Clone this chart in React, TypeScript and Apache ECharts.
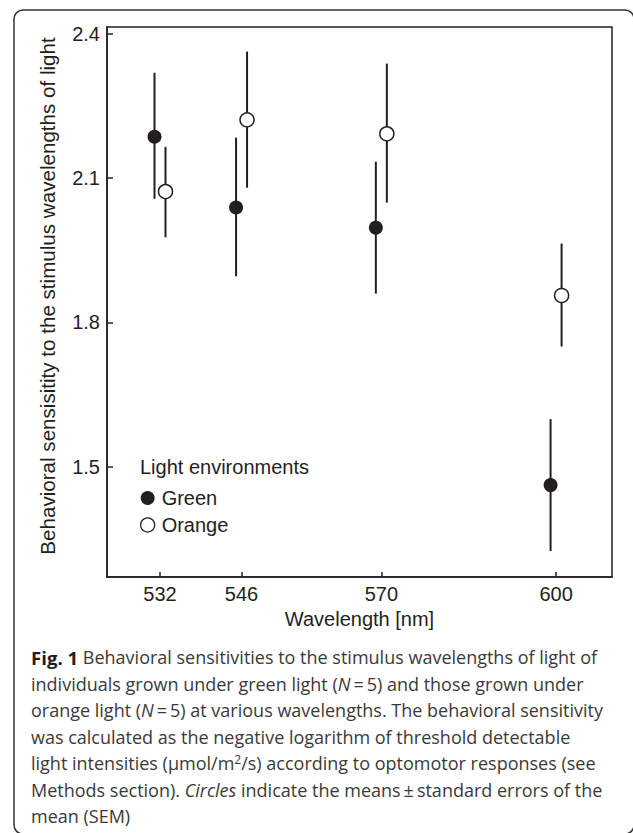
import React, { useEffect, useRef } from 'react';
import * as echarts from 'echarts';

const wavelengths = [532, 546, 570, 600];
const greenMean = [2.186, 2.039, 1.997, 1.462];
const greenLow = [2.057, 1.896, 1.86, 1.325];
const greenHigh = [2.319, 2.184, 2.134, 1.599];
const orangeMean = [2.072, 2.221, 2.192, 1.856];
const orangeLow = [1.977, 2.08, 2.049, 1.75];
const orangeHigh = [2.165, 2.363, 2.338, 1.964];
const yTicks = [1.5, 1.8, 2.1, 2.4];

const yTitle = 'Behavioral sensisitity to the stimulus wavelengths of light';
const xTitle = 'Wavelength [nm]';
const legendTitle = 'Light environments';
const captionLines = [
  '{b|Fig. 1} Behavioral sensitivities to the stimulus wavelengths of light of',
  'individuals grown under green light ({i|N}\u2009=\u20095) and those grown under',
  'orange light ({i|N}\u2009=\u20095) at various wavelengths. The behavioral sensitivity',
  'was calculated as the negative logarithm of threshold detectable',
  'light intensities (\u03bcmol/m{sup|2}/s) according to optomotor responses (see',
  'Methods section). {i|Circles} indicate the means\u2009\u00b1\u2009standard errors of the',
  'mean (SEM)',
];

export default function App() {
  const ref = useRef<HTMLDivElement>(null);
  useEffect(() => {
    const chart = echarts.init(ref.current as HTMLDivElement, null, { renderer: 'svg' });
    const ink = '#231f20';
    const capInk = '#3a3a3a';
    const font = '"Liberation Sans", Arial, Helvetica, sans-serif';
    const capFont = '"Open Sans", "Noto Sans", sans-serif';
    const capSize = 18;

    const errSeries = (name: string, lows: number[], highs: number[], dx: number) => ({
      type: 'custom',
      name,
      silent: true,
      z: 1,
      data: wavelengths.map((w, i) => [w, lows[i], highs[i]]),
      encode: { x: 0, y: [1, 2] },
      renderItem: (_params: any, api: any) => {
        const lo = api.coord([api.value(0), api.value(1)]);
        const hi = api.coord([api.value(0), api.value(2)]);
        return {
          type: 'line',
          shape: { x1: lo[0] + dx, y1: lo[1], x2: hi[0] + dx, y2: hi[1] },
          style: { stroke: ink, lineWidth: 2 },
        };
      },
    });

    const captionStartY = 657;
    const captionStep = 26.5;

    chart.setOption({
      animation: false,
      backgroundColor: '#ffffff',
      grid: {
        left: 107,
        right: 21,
        top: 27,
        bottom: 256,
        show: true,
        borderColor: ink,
        borderWidth: 1.5,
      },
      xAxis: {
        type: 'value',
        min: 522.9,
        max: 609.6,
        name: xTitle,
        nameLocation: 'middle',
        nameGap: 31,
        nameTextStyle: { fontSize: 20, color: ink, fontFamily: font },
        axisLine: { show: true, lineStyle: { color: ink, width: 1.5 } },
        axisTick: { show: true, inside: true, length: 5, customValues: wavelengths, lineStyle: { color: ink, width: 1.5 } },
        axisLabel: { customValues: wavelengths, fontSize: 20, color: ink, fontFamily: font, margin: 7 },
        splitLine: { show: false },
      },
      yAxis: {
        type: 'value',
        min: 1.271,
        max: 2.414,
        axisLine: { show: true, lineStyle: { color: ink, width: 1.5 } },
        axisTick: { show: true, inside: true, length: 6, customValues: yTicks, lineStyle: { color: ink, width: 1.5 } },
        axisLabel: {
          customValues: yTicks,
          fontSize: 20,
          color: ink,
          fontFamily: font,
          margin: 7,
          formatter: (v: number) => v.toFixed(1),
        },
        splitLine: { show: false },
      },
      legend: {
        show: true,
        orient: 'vertical',
        left: 140,
        top: 488,
        padding: 0,
        itemWidth: 14,
        itemHeight: 14,
        itemGap: 7,
        textStyle: { fontSize: 20, color: ink, fontFamily: font, padding: [0, 0, 0, 2] },
        data: [
          { name: 'Green', icon: 'circle', itemStyle: { color: ink, borderWidth: 0 } },
          { name: 'Orange', icon: 'circle', itemStyle: { color: '#ffffff', borderColor: ink, borderWidth: 1.3 } },
        ],
      },
      series: [
        errSeries('Green SEM', greenLow, greenHigh, -5.5),
        errSeries('Orange SEM', orangeLow, orangeHigh, 5.5),
        {
          type: 'scatter',
          name: 'Green',
          z: 3,
          symbol: 'circle',
          symbolSize: 14,
          symbolOffset: [-5.5, 0],
          itemStyle: { color: ink, opacity: 1 },
          data: wavelengths.map((w, i) => [w, greenMean[i]]),
        },
        {
          type: 'scatter',
          name: 'Orange',
          z: 3,
          symbol: 'circle',
          symbolSize: 14,
          symbolOffset: [5.5, 0],
          itemStyle: { color: '#ffffff', borderColor: ink, borderWidth: 1.5, opacity: 1 },
          data: wavelengths.map((w, i) => [w, orangeMean[i]]),
        },
      ],
      graphic: [
        {
          type: 'rect',
          silent: true,
          shape: { x: 14, y: 10, width: 620, height: 824, r: 9 },
          style: { fill: 'none', stroke: '#333333', lineWidth: 1.5 },
        },
        {
          type: 'text',
          silent: true,
          x: 47,
          y: 296,
          rotation: Math.PI / 2,
          style: {
            text: yTitle,
            fill: ink,
            font: `20.6px ${font}`,
            align: 'center',
            verticalAlign: 'middle',
          },
        },
        {
          type: 'text',
          silent: true,
          x: 140,
          y: 467,
          style: {
            text: legendTitle,
            fill: ink,
            font: `20px ${font}`,
            align: 'left',
            verticalAlign: 'middle',
          },
        },
        ...captionLines.map((line, i) => ({
          type: 'text',
          silent: true,
          x: 31,
          y: captionStartY + i * captionStep,
          style: {
            text: line,
            fill: capInk,
            fontFamily: capFont,
            fontSize: capSize,
            align: 'left',
            verticalAlign: 'middle',
            rich: {
              b: { fontFamily: capFont, fontSize: capSize + 0.6, fontWeight: 'bold', fill: ink },
              i: { fontFamily: capFont, fontSize: capSize, fontStyle: 'italic', fill: capInk },
              sup: { fontFamily: capFont, fontSize: 12, fill: capInk, verticalAlign: 'top', padding: [0, 0, 8, 0] },
            },
          },
        })),
      ],
    });
    return () => chart.dispose();
  }, []);
  return (
    <div
      ref={ref}
      style={{ position: 'absolute', left: 0, top: 0, width: 633, height: 833 }}
    />
  );
}
